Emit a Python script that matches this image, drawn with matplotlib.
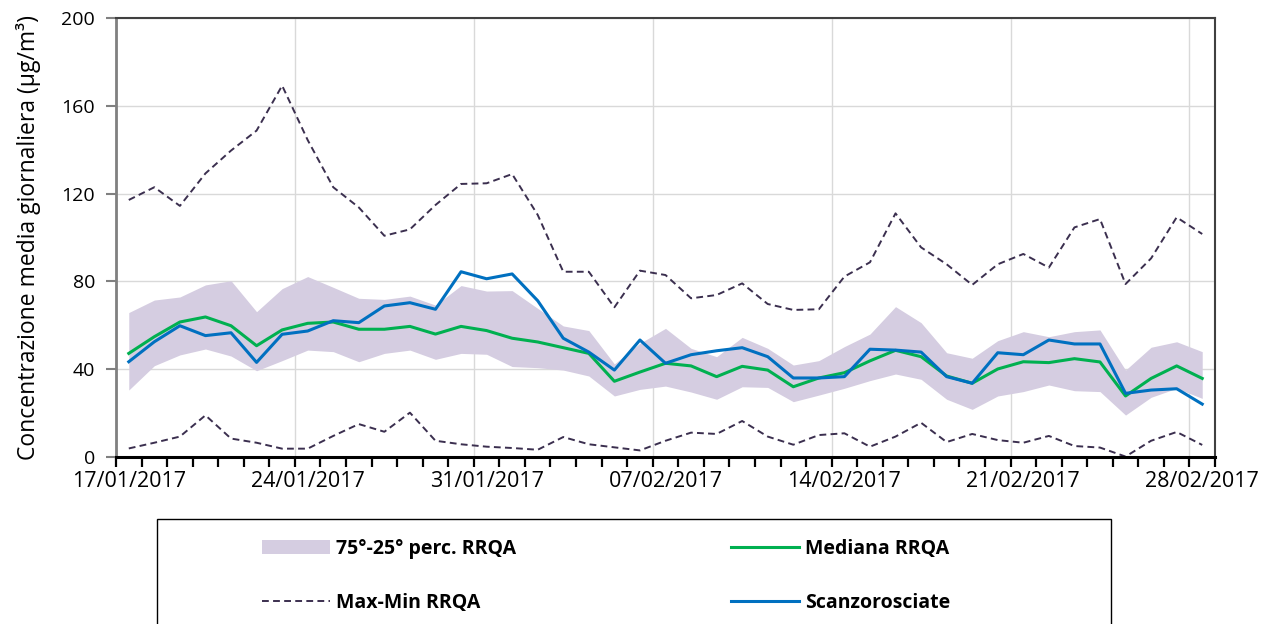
import numpy as np
import pandas as pd
import matplotlib
matplotlib.use("Agg")
import matplotlib.pyplot as plt
import matplotlib.dates as mdates
import matplotlib.ticker as mticker
import matplotlib.transforms as mtransforms
from matplotlib.patches import Rectangle

# daily values 17/01/2017 - 28/02/2017
days = pd.date_range("2017-01-17", "2017-02-28", freq="D")
tick_days = pd.date_range("2017-01-17", "2017-02-28", freq="7D")

p75 = [65.8, 71.5, 72.9, 78.4, 80.3, 66.2, 76.7, 82.2, 77.3, 72.3, 71.8, 73.3, 69.2, 78.1, 75.6,
       75.8, 67.7, 59.7, 57.6, 42.4, 51.8, 58.6, 49.5, 45.7, 54.5, 49.5, 41.9, 43.9, 50.3, 56.0,
       68.5, 61.2, 47.5, 45.0, 53.0, 57.1, 54.8, 57.1, 57.9, 39.6, 50.0, 52.5, 48.0]
p25 = [30.5, 41.6, 46.5, 49.2, 46.0, 39.3, 43.9, 48.7, 48.0, 43.4, 47.2, 48.7, 44.5, 47.2, 46.8,
       41.2, 40.7, 39.6, 36.9, 27.8, 30.8, 32.3, 29.6, 26.3, 32.0, 31.7, 25.2, 28.2, 31.3, 34.8,
       37.8, 35.4, 26.3, 21.7, 27.8, 29.8, 32.8, 30.2, 29.8, 19.1, 27.2, 31.3, 26.7]
vmax = [117.1, 122.9, 114.4, 129.2, 139.6, 148.7, 169.2, 144.4, 122.9, 113.7, 100.8, 103.7, 114.8, 124.4, 124.7,
        128.9, 110.3, 84.4, 84.4, 68.2, 84.9, 82.9, 72.3, 73.8, 79.1, 69.7, 67.0, 67.3, 82.2, 88.7,
        111.0, 95.5, 87.8, 78.4, 87.8, 92.5, 86.3, 104.6, 108.4, 78.8, 90.5, 109.2, 101.6]
vmin = [3.9, 6.5, 9.3, 19.0, 8.4, 6.5, 3.8, 3.8, 9.6, 15.0, 11.5, 20.2, 7.4, 5.8, 4.7,
        4.1, 3.3, 9.1, 5.8, 4.4, 3.0, 7.4, 11.1, 10.5, 16.4, 9.3, 5.6, 10.0, 10.8, 4.7,
        9.3, 15.6, 6.8, 10.5, 7.7, 6.5, 9.6, 5.0, 4.3, 0.2, 7.4, 11.4, 5.5]
mediana = [47.2, 54.8, 61.5, 63.8, 59.8, 50.7, 57.9, 60.9, 61.5, 58.2, 58.2, 59.5, 56.0, 59.5, 57.6,
           54.1, 52.4, 49.8, 47.2, 34.5, 38.7, 42.7, 41.5, 36.6, 41.3, 39.6, 32.0, 36.0, 38.4, 43.8,
           48.6, 45.7, 36.9, 33.6, 40.1, 43.4, 43.0, 44.8, 43.3, 27.8, 35.8, 41.5, 35.8]
scanzo = [43.4, 52.5, 59.8, 55.3, 56.6, 43.1, 55.9, 57.4, 62.1, 61.2, 68.8, 70.3, 67.3, 84.4, 81.2,
          83.4, 71.2, 54.1, 47.8, 39.6, 53.3, 42.7, 46.6, 48.4, 49.8, 45.7, 36.0, 36.0, 36.6, 49.1,
          48.7, 47.8, 36.6, 33.6, 47.5, 46.6, 53.3, 51.5, 51.5, 29.0, 30.5, 31.1, 24.1]

# points sit in the middle of each day
x = days + pd.Timedelta(hours=12)

plt.rcParams['font.family'] = ['Open Sans', 'DejaVu Sans']

fig = plt.figure(figsize=(12.74, 6.24), dpi=100)
ax = fig.add_axes([116/1274, 1-457/624, (1215-116)/1274, (457-18)/624])

band = ax.fill_between(x, p25, p75, color='#d5cde1', lw=0, label='75°-25° perc. RRQA')
mm, = ax.plot(x, vmax, color='#3b2f4f', lw=1.4, ls=(0, (3.5, 2.2)), label='Max-Min RRQA')
ax.plot(x, vmin, color='#3b2f4f', lw=1.4, ls=(0, (3.5, 2.2)))
med, = ax.plot(x, mediana, color='#00b050', lw=2.2, label='Mediana RRQA')
sc, = ax.plot(x, scanzo, color='#0070c0', lw=2.2, label='Scanzorosciate')

ax.set_xlim(pd.Timestamp("2017-01-17"), pd.Timestamp("2017-03-01"))
ax.set_ylim(0, 200)
ax.set_yticks(np.arange(0, 201, 40))

ax.xaxis.set_major_locator(mticker.FixedLocator(mdates.date2num(tick_days)))
ax.xaxis.set_major_formatter(mdates.DateFormatter('%d/%m/%Y'))
ax.xaxis.set_minor_locator(mdates.DayLocator())
ax.xaxis.set_minor_formatter(mticker.NullFormatter())

ax.grid(True, which='major', color='#d9d9d9', lw=1.0)
ax.set_axisbelow(True)

for s in ['top', 'right']:
    ax.spines[s].set_color('#404040')
    ax.spines[s].set_linewidth(1.5)
ax.spines['left'].set_color('#808080')
ax.spines['left'].set_linewidth(2)
ax.spines['bottom'].set_color('black')
ax.spines['bottom'].set_linewidth(2.2)

ax.tick_params(axis='y', which='major', length=7, width=1.5, color='#808080', labelsize=14, pad=8)
ax.tick_params(axis='x', which='both', length=7, width=1.6, color='black', labelsize=15.5, pad=3)

# date labels sit under the middle of the day, like the points
shift = mtransforms.ScaledTranslation(12.8/100, 0, fig.dpi_scale_trans)
for lab in ax.get_xticklabels():
    lab.set_transform(lab.get_transform() + shift)

ax.set_ylabel('Concentrazione media giornaliera (µg/m³)', fontsize=16.5, labelpad=15)

# legend box runs past the bottom edge in the reference
fig.patches.append(Rectangle((157/1274, -0.05), (1111-157)/1274, 1-519/624+0.05,
                             transform=fig.transFigure, fill=False, edgecolor='black', lw=1.0))

leg_kw = dict(loc='upper left', frameon=False, handlelength=3.5,
              handletextpad=0.3, labelspacing=1.76, borderpad=0, borderaxespad=0,
              prop={'weight': 'bold', 'size': 14})
leg1 = fig.legend(handles=[band, mm], bbox_to_anchor=(262/1274, 1-539/624), **leg_kw)
leg2 = fig.legend(handles=[med, sc], bbox_to_anchor=(731/1274, 1-539/624), **leg_kw)

fig.savefig('out.png', dpi=100)
